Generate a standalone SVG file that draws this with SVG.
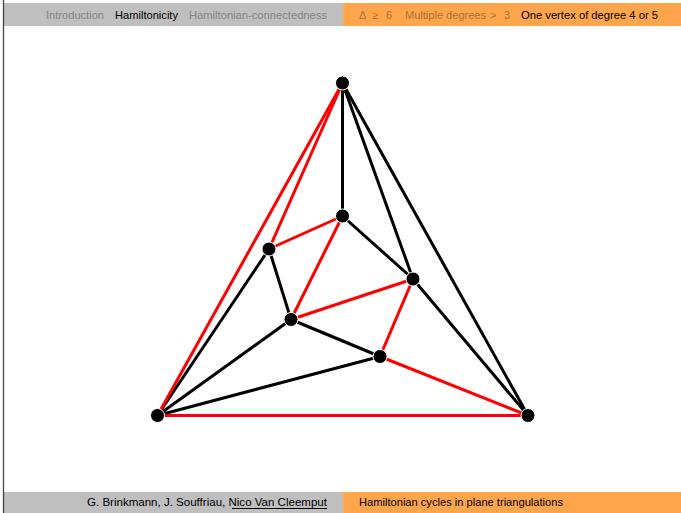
<svg xmlns="http://www.w3.org/2000/svg" width="681" height="513" viewBox="0 0 681 513">
<style>
.bar-g{fill:#bfbfbf}
.bar-o{fill:#ffa64c}
.t{font-family:"Liberation Sans",Arial,sans-serif;font-size:11px}
.dim{fill:#858585}
.act{fill:#000}
.odim{fill:#a8733a}
.e{stroke-width:3;stroke-linecap:round;fill:none}
.k{stroke:#000}
.r{stroke:#ff0000}
.n{fill:#000;stroke:#fff;stroke-width:1}
</style>
<rect x="0" y="0" width="681" height="513" fill="#fff"/>
<g id="header">
<rect class="bar-g" x="4" y="3" width="339" height="23"/>
<rect class="bar-o" x="343" y="3" width="338" height="23"/>
<text class="t dim" x="46" y="19" textLength="58" lengthAdjust="spacingAndGlyphs">Introduction</text>
<text class="t act" x="115" y="19" textLength="63" lengthAdjust="spacingAndGlyphs">Hamiltonicity</text>
<text class="t dim" x="189" y="19" textLength="138" lengthAdjust="spacingAndGlyphs">Hamiltonian-connectedness</text>
<text class="t odim" y="19"><tspan x="359">Δ</tspan><tspan x="372">≥</tspan><tspan x="386">6</tspan></text>
<text class="t odim" y="19"><tspan x="405" textLength="81" lengthAdjust="spacingAndGlyphs">Multiple degrees</tspan><tspan x="490">&gt;</tspan><tspan x="504">3</tspan></text>
<text class="t act" x="521" y="19" textLength="137" lengthAdjust="spacingAndGlyphs">One vertex of degree 4 or 5</text>
</g>
<g id="footer">
<rect class="bar-g" x="4" y="492" width="339" height="21"/>
<rect class="bar-o" x="343" y="492" width="338" height="21"/>
<text class="t act" x="87" y="506" textLength="240" lengthAdjust="spacingAndGlyphs">G. Brinkmann, J. Souffriau, Nico Van Cleemput</text>
<line x1="232" y1="508.5" x2="327" y2="508.5" stroke="#000" stroke-width="1"/>
<text class="t act" x="359" y="506" textLength="204" lengthAdjust="spacingAndGlyphs">Hamiltonian cycles in plane triangulations</text>
</g>
<line id="frame-left" x1="3.5" y1="0" x2="3.5" y2="513" stroke="#444" stroke-width="1.3"/>
<g id="edges">
<line class="e k" x1="342.5" y1="83" x2="342.5" y2="216"/>
<line class="e k" x1="342.5" y1="83" x2="413" y2="279"/>
<line class="e k" x1="342.5" y1="83" x2="528" y2="415.5"/>
<line class="e k" x1="342.5" y1="216" x2="413" y2="279"/>
<line class="e k" x1="269" y1="249" x2="157.5" y2="415.5"/>
<line class="e k" x1="269" y1="249" x2="291" y2="319.5"/>
<line class="e k" x1="291" y1="319.5" x2="157.5" y2="415.5"/>
<line class="e k" x1="291" y1="319.5" x2="380" y2="356.5"/>
<line class="e k" x1="380" y1="356.5" x2="157.5" y2="415.5"/>
<line class="e k" x1="413" y1="279" x2="528" y2="415.5"/>
<line class="e r" x1="342.5" y1="83" x2="157.5" y2="415.5"/>
<line class="e r" x1="342.5" y1="83" x2="269" y2="249"/>
<line class="e r" x1="269" y1="249" x2="342.5" y2="216"/>
<line class="e r" x1="342.5" y1="216" x2="291" y2="319.5"/>
<line class="e r" x1="291" y1="319.5" x2="413" y2="279"/>
<line class="e r" x1="413" y1="279" x2="380" y2="356.5"/>
<line class="e r" x1="380" y1="356.5" x2="528" y2="415.5"/>
<line class="e r" x1="528" y1="415.5" x2="157.5" y2="415.5"/>
</g>
<g id="v-top"><circle class="n" cx="342.5" cy="83" r="7"/></g>
<g id="v-a"><circle class="n" cx="342.5" cy="216" r="7"/></g>
<g id="v-b"><circle class="n" cx="269" cy="249" r="7"/></g>
<g id="v-c"><circle class="n" cx="413" cy="279" r="7"/></g>
<g id="v-d"><circle class="n" cx="291" cy="319.5" r="7"/></g>
<g id="v-e"><circle class="n" cx="380" cy="356.5" r="7"/></g>
<g id="v-bl"><circle class="n" cx="157.5" cy="415.5" r="7"/></g>
<g id="v-br"><circle class="n" cx="528" cy="415.5" r="7"/></g>
</svg>
